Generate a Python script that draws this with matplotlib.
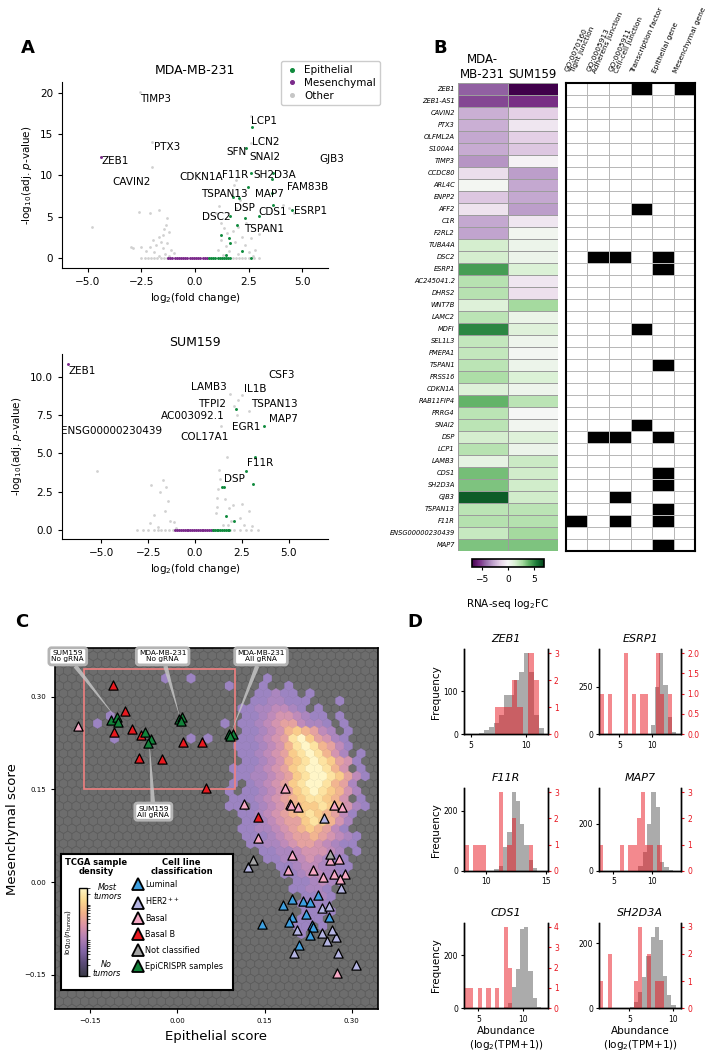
import numpy as np
import matplotlib
matplotlib.use("Agg")
import matplotlib.pyplot as plt
import matplotlib.cm as cm
from matplotlib.colors import ListedColormap, LinearSegmentedColormap, Normalize, LogNorm
from matplotlib.lines import Line2D
from matplotlib.patches import Rectangle
from matplotlib.ticker import NullFormatter
from matplotlib.transforms import ScaledTranslation

W, H = 710, 1059

# ---------------- panel A data ----------------
mda_other_x = [-2.58, -2.0, -2.0, -4.8, -2.9, 2.62, 2.6, 1.9, 1.8, 4.1, 4.4, 4.6, 1.1, 1.0, -2.6, -2.1, -1.7,
               -1.3, -1.35, -1.45, -1.2, -1.5, -1.7, -1.95, -1.6, -1.3, -1.8, -2.1, -1.5, -1.1, -2.3, -1.9,
               -1.4, -2.5, -3.0, -1.0, -1.2, -1.7, 1.2, 1.35, 1.5, 1.75, 2.0, 2.2, 1.2, 1.45, 1.85, 2.35,
               2.6, 1.05, 1.6, 2.0, 2.5, 1.3, 2.8, 3.0, 3.3, 2.4, 2.7, 1.9, 2.1, 1.55,
               -2.5, -2.35, -2.2, -2.05, -1.9, -1.75, -1.6, -1.45, -1.3, 1.75, 1.9, 2.05, 2.2, 2.35, 2.5,
               2.75, 3.0]
mda_other_y = [20.1, 14.0, 11.0, 3.8, 1.2, 17.2, 13.9, 9.5, 8.8, 6.4, 6.0, 5.5, 6.3, 5.4, 5.6, 5.5, 5.8,
               4.8, 4.0, 3.5, 3.2, 2.8, 2.5, 2.2, 2.0, 1.8, 1.6, 1.4, 1.2, 1.0, 0.9, 0.7,
               0.5, 1.3, 1.3, 0.6, 0.3, 0.3, 4.3, 3.6, 3.0, 3.3, 3.8, 2.6, 2.2, 1.5, 1.9, 1.6,
               2.4, 1.0, 0.8, 0.5, 0.7, 0.4, 1.0, 2.9, 3.5, 4.2, 0.3, 6.0, 7.0, 5.5,
               0, 0, 0, 0, 0, 0, 0, 0, 0, 0, 0, 0, 0, 0, 0, 0, 0]
mda_epi_x = [2.65, 2.39, 2.62, 3.63, 3.6, 2.47, 3.6, 1.77, 2.05, 3.63, 4.52, 3.0, 1.65, 2.31, 1.96,
             1.23, 1.59, 1.62, 2.2, 1.46, 2.62,
             0.65, 0.75, 0.85, 0.95, 1.05, 1.15, 1.25, 1.35, 1.45, 1.55, 1.65]
mda_epi_y = [15.8, 13.3, 10.3, 10.3, 9.6, 8.65, 7.9, 7.44, 7.25, 6.44, 5.83, 5.1, 5.1, 4.9, 4.0,
             2.8, 2.4, 1.8, 0.9, 0.4, 0.0,
             0, 0, 0, 0, 0, 0, 0, 0, 0, 0, 0]
mda_mes_x = [-4.37, -1.25, -1.15, -1.05, -0.95, -0.85, -0.75, -0.65, -0.55, -0.45, -0.35, -0.25,
             -0.15, -0.05, 0.05, 0.15, 0.25, 0.35, 0.45, 0.55]
mda_mes_y = [12.27, 0, 0, 0, 0, 0, 0, 0, 0, 0, 0, 0, 0, 0, 0, 0, 0, 0, 0, 0]
mda_labels = ["TIMP3", "PTX3", "ZEB1", "CAVIN2", "LCP1", "LCN2", "SFN", "SNAI2", "GJB3", "CDKN1A",
              "F11R", "SH2D3A", "FAM83B", "TSPAN13", "MAP7", "DSP", "CDS1", "ESRP1", "DSC2", "TSPAN1"]
mda_label_x = [-2.58, -1.93, -4.37, -3.86, 2.62, 2.65, 1.47, 2.52, 5.82, -0.74,
               1.28, 2.7, 4.27, 0.26, 2.8, 1.82, 2.96, 4.63, 0.31, 2.31]
mda_label_y = [19.3, 13.4, 11.75, 9.2, 16.6, 14.0, 12.8, 12.2, 11.95, 9.86,
               10.0, 10.0, 8.6, 7.7, 7.7, 6.0, 5.55, 5.7, 5.0, 3.54]

sum_other_x = [1.88, 2.52, 2.29, 2.1, 2.88, 2.23, 1.4, 1.72, -5.23, -2.34, -1.73, -1.56, -1.86, -1.45,
               -2.2, -1.6, -1.1, -1.35, -2.4, 1.3, 1.35, 1.25, 1.2, 1.15, 1.6, 1.1, 1.8, 2.05, 2.5, 2.9,
               2.4, 1.9, 1.5, 2.6, 3.05, 1.75, -2.0, -1.0,
               -3.1, -2.8, -2.5, -2.2, -2.0, -1.8, -1.6, -1.4, -1.2, 1.85, 2.1, 2.4, 2.7, 3.0, 3.36]
sum_other_y = [8.87, 8.8, 8.48, 8.09, 7.78, 7.5, 6.8, 4.74, 3.85, 2.94, 3.26, 2.8, 2.5, 1.89,
               1.0, 1.2, 0.5, 0.55, 0.45, 3.9, 3.3, 2.7, 2.1, 1.5, 2.0, 1.1, 1.4, 1.6, 1.7, 1.2,
               0.8, 0.6, 0.3, 0.3, 0.25, 0.3, 0.2, 0.15,
               0, 0, 0, 0, 0, 0, 0, 0, 0, 0, 0, 0, 0, 0, 0]
sum_epi_x = [2.2, 3.68, 3.2, 2.7, 3.09, 1.43, 1.55, 1.67, 2.08,
             0.95, 1.05, 1.15, 1.25, 1.35, 1.45, 1.55, 1.65, 1.75, 1.83]
sum_epi_y = [7.89, 6.8, 4.74, 3.87, 2.98, 2.79, 2.82, 0.89, 0.59,
             0, 0, 0, 0, 0, 0, 0, 0, 0, 0]
sum_mes_x = [-6.8, -1.07, -0.95, -0.85, -0.75, -0.65, -0.55, -0.45, -0.35, -0.25, -0.15, -0.05,
             0.05, 0.15, 0.25, 0.35, 0.45, 0.55, 0.65, 0.75, 0.85, 0.95]
sum_mes_y = [10.83, 0, 0, 0, 0, 0, 0, 0, 0, 0, 0, 0, 0, 0, 0, 0, 0, 0, 0, 0, 0, 0]
sum_labels = ["ZEB1", "CSF3", "LAMB3", "IL1B", "TFPI2", "TSPAN13", "AC003092.1", "MAP7",
              "ENSG00000230439", "EGR1", "COL17A1", "F11R", "DSP"]
sum_label_x = [-6.76, 3.9, -0.2, 2.59, 0.19, 3.0, -1.81, 3.95, -7.15, 1.99, -0.79, 2.77, 1.54]
sum_label_y = [10.39, 10.1, 9.35, 9.24, 8.26, 8.2, 7.44, 7.28, 6.48, 6.74, 6.05, 4.35, 3.3]

# ---------------- panel B data ----------------
genes = ["ZEB1", "ZEB1-AS1", "CAVIN2", "PTX3", "OLFML2A", "S100A4", "TIMP3", "CCDC80", "ARL4C",
         "ENPP2", "AFF2", "C1R", "F2RL2", "TUBA4A", "DSC2", "ESRP1", "AC245041.2", "DHRS2", "WNT7B",
         "LAMC2", "MDFI", "SEL1L3", "PMEPA1", "TSPAN1", "PRSS16", "CDKN1A", "RAB11FIP4", "PRRG4",
         "SNAI2", "DSP", "LCP1", "LAMB3", "CDS1", "SH2D3A", "GJB3", "TSPAN13", "F11R",
         "ENSG00000230439", "MAP7"]
mda_fc = [-4.5, -5.0, -2.5, -2.5, -2.7, -2.6, -3.2, -1.0, 0.2, -1.8, -0.8, -2.7, -2.8, 1.5, 1.5,
          4.6, 2.3, 2.3, 1.2, 2.2, 5.2, 2.0, 2.0, 2.2, 2.6, 1.2, 4.0, 2.2, 2.2, 1.5, 2.3, 0.8,
          3.7, 3.5, 6.3, 2.2, 2.4, 1.9, 3.5]
sum_fc = [-7.0, -5.5, -1.5, -0.7, -1.5, -1.8, -0.2, -3.0, -2.7, -2.7, -3.0, -0.7, 0.3, 0.5, 0.5,
          1.3, -0.7, -0.9, 2.8, 0.6, 1.1, 0.4, 0.2, 0.5, 1.3, 0.4, 2.2, 0.1, 0.3, 1.2, 0.5, 1.8,
          1.6, 1.6, 1.6, 2.2, 2.4, 2.8, 3.5]
annot_cols = ["GO:0070160\nTight junction", "GO:0005913\nAdherens junction",
              "GO:0005911\nCell-cell junction", "Transcription factor", "Epithelial gene",
              "Mesenchymal gene"]
annot_rows = ["000101", "000000", "000000", "000000", "000000", "000000", "000000", "000000",
              "000000", "000000", "000100", "000000", "000000", "000000", "011010", "000010",
              "000000", "000000", "000000", "000000", "000100", "000000", "000000", "000010",
              "000000", "000000", "000000", "000000", "000100", "011010", "000000", "000000",
              "000010", "000010", "001000", "000010", "101010", "000000", "000010"]

# ---------------- panel C data ----------------
# TCGA density read per hex row (row index, levels from hex column 19 on)
tcga_row_index = [44, 43, 42, 41, 40, 39, 38, 37, 36, 35, 34, 33, 32, 31, 30, 29, 28, 27, 26, 25,
                  24, 23, 22, 21, 20, 19, 18, 17, 16, 15, 14, 13, 12, 11, 10]
tcga_row_levels = ["......1...........",
                   ".1...1..1.........",
                   ".....11211.1......",
                   "....1122111...1...",
                   "...11223321.1.....",
                   "...1123443211.1...",
                   ".1.11234553221.1..",
                   "...11234676532.1..",
                   "...1123458975421..",
                   "..11123468986531..",
                   "...1123457898642.1",
                   "...11234678987541.",
                   "..11123457899864.1",
                   "..1122345789987531",
                   "..1.1234578998652.",
                   ".1.11234578987642",
                   "..11123456788764.1",
                   ".11.12345677876421",
                   "...11234567876531",
                   "...1123455787642.",
                   "...1122345676531",
                   "...11123455654321",
                   "....1122345543211",
                   ".....1122344432.1",
                   "......1122343211",
                   ".......112332211",
                   "........11233221",
                   ".........112321",
                   ".........11221",
                   "..........1121",
                   "..........1111",
                   "..........1111",
                   "..........111",
                   ".........11.1",
                   "..........1"]
tcga_sparse_x = [-0.134, -0.105, -0.11, 0.026, 0.058, -0.023, 0.021]
tcga_sparse_y = [0.26, 0.235, 0.273, 0.235, 0.235, 0.326, 0.326]

luminal_x = [0.198, 0.181, 0.216, 0.229, 0.242, 0.222, 0.198, 0.192, 0.146, 0.231, 0.233, 0.261, 0.229, 0.209]
luminal_y = [-0.028, -0.037, -0.030, -0.032, -0.021, -0.051, -0.057, -0.064, -0.067, -0.070, -0.072, -0.056, -0.086, -0.102]
her2_x = [0.122, 0.252, 0.282, 0.248, 0.260, 0.206, 0.248, 0.272, 0.258, 0.201, 0.277, 0.266, 0.307]
her2_y = [0.024, 0.103, -0.009, -0.041, -0.038, -0.078, -0.082, -0.088, -0.095, -0.114, -0.114, -0.077, -0.134]
basal_x = [-0.171, 0.186, 0.114, 0.193, 0.196, 0.208, 0.269, 0.284, 0.138, 0.197, 0.191, 0.233,
           0.250, 0.262, 0.278, 0.269, 0.289, 0.279, 0.275]
basal_y = [0.252, 0.153, 0.127, 0.126, 0.125, 0.122, 0.125, 0.122, 0.071, 0.044, 0.019, 0.020,
           0.009, 0.036, 0.037, 0.014, 0.013, 0.005, -0.147]
basalb_x = [-0.110, -0.089, -0.108, -0.078, -0.062, -0.066, -0.026, 0.010, 0.042, 0.050, 0.139]
basalb_y = [0.319, 0.277, 0.243, 0.247, 0.238, 0.201, 0.199, 0.226, 0.226, 0.152, 0.105]
nocls_x = [0.130, 0.262]
nocls_y = [0.036, 0.045]
epi_x = [-0.114, -0.104, -0.101, -0.055, -0.045, -0.050, 0.003, 0.008, 0.006, 0.089, 0.095, 0.090]
epi_y = [0.262, 0.267, 0.259, 0.243, 0.231, 0.225, 0.263, 0.267, 0.261, 0.240, 0.240, 0.236]

callout_text = ["SUM159\nNo gRNA", "MDA-MB-231\nNo gRNA", "MDA-MB-231\nAll gRNA", "SUM159\nAll gRNA"]
callout_xy = [(-0.105, 0.265), (0.005, 0.265), (0.092, 0.240), (-0.048, 0.228)]
callout_text_xy = [(-0.188, 0.365), (-0.025, 0.365), (0.144, 0.365), (-0.041, 0.114)]

# ---------------- panel D data ----------------
hist_genes = ["ZEB1", "ESRP1", "F11R", "MAP7", "CDS1", "SH2D3A"]
tcga_start = [5.75, 9.85, 10.7, 8.26, 7.8, 5.05]
tcga_width = [0.45, 0.65, 0.36, 0.56, 0.46, 0.48]
tcga_counts = [[4, 10, 18, 25, 45, 90, 92, 125, 145, 188, 145, 45, 14],
               [49, 250, 425, 258, 93, 14],
               [5, 15, 80, 130, 262, 232, 156, 85, 35, 10],
               [20, 80, 200, 335, 272, 40, 15, 6],
               [5, 20, 80, 150, 300, 308, 140, 40, 6],
               [3, 20, 50, 95, 160, 220, 250, 210, 100, 40, 10]]
line_start = [7.2, 1.95, 8.2, 3.17, 3.5, 1.5]
line_width = [0.5, 0.62, 0.36, 0.54, 0.48, 0.5]
line_counts = [[1, 1, 1, 2, 1, 0, 3, 2],
               [1, 0, 1, 0, 0, 0, 2, 0, 1, 0, 1, 1, 0, 0, 2, 1, 0, 1],
               [1, 0, 1, 1, 1, 0, 0, 0, 3, 0, 1, 2, 0, 0, 0, 1],
               [1, 0, 0, 0, 0, 1, 0, 1, 1, 2, 3, 1, 1, 0, 1],
               [1, 1, 0, 1, 0, 1, 0, 1, 0, 4, 2],
               [1, 0, 2, 0, 0, 0, 0, 0, 1, 3, 0, 2, 0, 1, 1]]
hist_xlim = [(4.42, 11.96), (1.9, 14.5), (8.18, 15.17), (3.17, 13.8), (3.44, 12.7), (1.54, 10.96)]
hist_xticks = [[5, 10], [5, 10], [10, 15], [5, 10], [5, 10], [5, 10]]
hist_yticks = [[0, 100], [0, 250], [0, 200], [0, 200], [0, 200], [0, 200]]
hist_rticks = [[0, 1, 2, 3], [0.0, 0.5, 1.0, 1.5, 2.0], [0, 1, 2, 3], [0, 1, 2, 3], [0, 1, 2, 3, 4], [0, 1, 2, 3]]


def box(x0, y0, x1, y1):
    return [x0 / W, 1 - y1 / H, (x1 - x0) / W, (y1 - y0) / H]


fig = plt.figure(figsize=(W / 100, H / 100), dpi=100)

# ================= A: volcano plots =================
GREEN = "#0f8a3c"
PURPLE = "#7b2a8b"
OTHER = "#c6c6c6"


def volcano(rect, title, ox, oy, ex, ey, mx, my, names, lx, ly, xlim, ylim, yticks, ylabfmt):
    ax = fig.add_axes(rect)
    ax.scatter(ox, oy, s=4, c=OTHER, lw=0, alpha=0.8)
    ax.scatter(mx, my, s=4.5, c=PURPLE, lw=0)
    ax.scatter(ex, ey, s=4.5, c=GREEN, lw=0)
    for n, x, y in zip(names, lx, ly):
        ax.text(x, y, n, fontsize=7.5, va="center", ha="left")
    ax.set_xlim(*xlim)
    ax.set_ylim(*ylim)
    ax.set_xticks([-5, -2.5, 0, 2.5, 5])
    ax.set_xticklabels(["\u22125.0", "\u22122.5", "0.0", "2.5", "5.0"])
    ax.set_yticks(yticks)
    ax.set_yticklabels([ylabfmt.format(v) for v in yticks])
    ax.tick_params(labelsize=7.5, length=3)
    for s in ["top", "right"]:
        ax.spines[s].set_visible(False)
    ax.set_title(title, fontsize=9, pad=6)
    ax.set_xlabel("log$_2$(fold change)", fontsize=7.5, labelpad=3)
    ax.set_ylabel("-log$_{10}$(adj. $p$-value)", fontsize=7.5)
    return ax


volcano(box(62, 82, 328, 268), "MDA-MB-231", mda_other_x, mda_other_y, mda_epi_x, mda_epi_y,
        mda_mes_x, mda_mes_y, mda_labels, mda_label_x, mda_label_y,
        (-6.2, 6.2), (-1.2, 21.3), [0, 5, 10, 15, 20], "{:.0f}")
volcano(box(62, 354, 328, 539), "SUM159", sum_other_x, sum_other_y, sum_epi_x, sum_epi_y,
        sum_mes_x, sum_mes_y, sum_labels, sum_label_x, sum_label_y,
        (-7.1, 7.1), (-0.6, 11.5), [0, 2.5, 5, 7.5, 10], "{:.1f}")

handles = [Line2D([], [], marker="o", ls="", color=c, markersize=2.6) for c in (GREEN, PURPLE, OTHER)]
fig.legend(handles, ["Epithelial", "Mesenchymal", "Other"], loc="upper left",
           bbox_to_anchor=(276 / W, 1 - 56 / H), fontsize=7.5, frameon=True, handletextpad=0.6,
           borderpad=0.4, labelspacing=0.25, handlelength=1.2, fancybox=True, framealpha=1,
           edgecolor="#cccccc")

# ================= B: heatmap + annotations =================
ax_h = fig.add_axes(box(457.7, 82.7, 558, 551))
vals = np.column_stack([mda_fc, sum_fc])
ax_h.pcolormesh(vals, cmap="PRGn", vmin=-7, vmax=7, edgecolors="#9c9c9c", linewidth=0.4)
ax_h.set_ylim(len(genes), 0)
ax_h.set_xlim(0, 2)
ax_h.set_yticks(np.arange(len(genes)) + 0.5)
ax_h.set_yticklabels(genes, fontsize=4.8, style="italic")
ax_h.xaxis.tick_top()
ax_h.set_xticks([0.5, 1.5])
ax_h.set_xticklabels(["MDA-\nMB-231", "SUM159"], fontsize=8.5)
ax_h.tick_params(axis="x", length=0, pad=1.5)
ax_h.tick_params(axis="y", length=0, pad=2)
for s in ax_h.spines.values():
    s.set_visible(False)

ax_a = fig.add_axes(box(565.7, 82.7, 695.3, 551))
flags = np.array([[int(ch) for ch in row] for row in annot_rows])
ax_a.pcolormesh(flags, cmap=ListedColormap(["white", "black"]), vmin=0, vmax=1,
                edgecolors="#b8b8b8", linewidth=0.6)
ax_a.set_ylim(len(genes), 0)
ax_a.set_xlim(0, len(annot_cols))
ax_a.set_yticks([])
ax_a.xaxis.tick_top()
ax_a.set_xticks(np.arange(len(annot_cols)) + 0.5)
ax_a.set_xticklabels(annot_cols, rotation=66, ha="left", va="bottom", rotation_mode="anchor",
                     fontsize=5.3, linespacing=1.0)
ax_a.tick_params(length=0, pad=6)
for lbl in ax_a.get_xticklabels():
    dx = -0.01 if "\n" in lbl.get_text() else -0.06
    lbl.set_transform(lbl.get_transform() + ScaledTranslation(dx, 0, fig.dpi_scale_trans))
for s in ax_a.spines.values():
    s.set_linewidth(1.5)

ax_cb = fig.add_axes(box(471.7, 559, 544, 567))
cb = fig.colorbar(cm.ScalarMappable(norm=Normalize(-7, 7), cmap="PRGn"), cax=ax_cb,
                  orientation="horizontal")
cb.set_ticks([-5, 0, 5])
cb.set_ticklabels(["\u22125", "0", "5"])
cb.ax.tick_params(labelsize=6.5, length=2.5, width=0.8)
cb.outline.set_linewidth(1.2)
cb.set_label("RNA-seq log$_2$FC", fontsize=7.5, labelpad=9)

# ================= C: TCGA density + cell lines =================
ext = (-0.21, 0.345, -0.205, 0.378)
nx, ny = 38, 24
sx = (ext[1] - ext[0]) / nx
sy = (ext[3] - ext[2]) / ny
tx, ty, tn = [], [], []
for k, row in zip(tcga_row_index, tcga_row_levels):
    for c, ch in enumerate(row):
        if ch == ".":
            continue
        tx.append(ext[0] + (19 + c + 0.5 * (k % 2)) * sx)
        ty.append(ext[2] + k * sy / 2)
        tn.append(int(ch))
tx += tcga_sparse_x
ty += tcga_sparse_y
tn += [1] * len(tcga_sparse_x)

dens_cmap = LinearSegmentedColormap.from_list(
    "dens", ["#9c84c2", "#ad86bf", "#c58db8", "#dc99ab", "#eeab96", "#f7c486", "#fde09a", "#fff6c8"])
bar_cmap = LinearSegmentedColormap.from_list(
    "densbar", ["#3a3a47", "#5a4a76", "#8466a6", "#b27fb4", "#dc93a6", "#f2b088", "#fbd98e", "#fff7c6"])

ax_c = fig.add_axes(box(55, 648.3, 378, 1009))
ax_c.set_facecolor("#6b6b6b")
ax_c.hexbin(tx, ty, gridsize=(nx, ny), extent=ext, cmap=ListedColormap(["#6d6d6d"]),
            edgecolors="#5c5c5c", linewidths=0.5, zorder=1)
ax_c.hexbin(tx, ty, C=tn, reduce_C_function=np.sum, gridsize=(nx, ny), extent=ext,
            cmap=dens_cmap, norm=Normalize(1, 9), edgecolors="face", linewidths=0.3, zorder=1.5)
ax_c.set_xlim(ext[0], ext[1])
ax_c.set_ylim(ext[2], ext[3])
ax_c.add_patch(Rectangle((-0.16, 0.15), 0.26, 0.195, fill=False, ec="#f08080", lw=1.2, zorder=2))

classes = [("Luminal", "#3d9fe0", luminal_x, luminal_y),
           ("HER2$^{++}$", "#b4b4e2", her2_x, her2_y),
           ("Basal", "#f6a8c4", basal_x, basal_y),
           ("Basal B", "#e8191f", basalb_x, basalb_y),
           ("Not classified", "#a3a3a3", nocls_x, nocls_y),
           ("EpiCRISPR samples", "#12833a", epi_x, epi_y)]
for name, col, xs, ys in classes:
    ax_c.scatter(xs, ys, marker="^", s=44, c=col, edgecolors="black", linewidths=0.9, zorder=4)

for txt, xy, txy in zip(callout_text, callout_xy, callout_text_xy):
    ax_c.annotate(txt, xy=xy, xytext=txy, fontsize=5.3, ha="center", va="center", zorder=3,
                  annotation_clip=False, linespacing=1.0,
                  bbox=dict(boxstyle="round,pad=0.35", fc="white", ec="#b4b4b4", lw=2),
                  arrowprops=dict(arrowstyle="wedge,tail_width=0.6,shrink_factor=0.5",
                                  fc="#c4c4c4", ec="none", alpha=0.85, shrinkA=0, shrinkB=0))

ax_c.set_xticks([-0.15, 0, 0.15, 0.30])
ax_c.set_yticks([-0.15, 0, 0.15, 0.30])
ax_c.tick_params(labelsize=5, length=3)
for s in ax_c.spines.values():
    s.set_linewidth(1.2)
ax_c.set_xlabel("Epithelial score", fontsize=9.5, labelpad=4)
ax_c.set_ylabel("Mesenchymal score", fontsize=9.5, labelpad=4)

# legend box inside C
ax_leg = ax_c.inset_axes([0.018, 0.053, 0.532, 0.377])
ax_leg.set_facecolor("white")
ax_leg.set_xticks([])
ax_leg.set_yticks([])
ax_leg.set_zorder(5)
for s in ax_leg.spines.values():
    s.set_linewidth(1.5)
ax_leg.text(0.2035, 0.90, "TCGA sample\ndensity", ha="center", va="center", fontsize=6,
            fontweight="bold", linespacing=1.0)
ax_leg.text(0.703, 0.90, "Cell line\nclassification", ha="center", va="center", fontsize=6,
            fontweight="bold", linespacing=1.0)
ax_leg.text(0.27, 0.72, "Most\ntumors", ha="center", va="center", fontsize=5.8, style="italic",
            linespacing=1.0)
ax_leg.text(0.265, 0.15, "No\ntumors", ha="center", va="center", fontsize=5.8, style="italic",
            linespacing=1.0)
ax_leg.text(0.04, 0.426, "log$_{10}$($n_{\\mathrm{tumors}}$)", ha="center", va="center",
            fontsize=5, rotation=90)
cax = ax_leg.inset_axes([0.108, 0.103, 0.0465, 0.647])
cb2 = fig.colorbar(cm.ScalarMappable(norm=LogNorm(1, 300), cmap=bar_cmap), cax=cax)
cb2.ax.yaxis.set_major_formatter(NullFormatter())
cb2.ax.yaxis.set_minor_formatter(NullFormatter())
cb2.ax.tick_params(which="both", length=1.8, width=0.5, right=True)
cb2.outline.set_linewidth(1.0)

leg_handles = [Line2D([], [], marker="^", ls="", markerfacecolor=col, markeredgecolor="black",
                      markeredgewidth=1.3, markersize=8) for _, col, _, _ in classes]
ax_leg.legend(leg_handles, [c[0] for c in classes], loc="upper left", bbox_to_anchor=(0.42, 0.81),
              frameon=False, fontsize=5.9, labelspacing=0.85, handletextpad=0.25,
              borderaxespad=0, handlelength=1.2, borderpad=0)

# ================= D: histograms =================
hist_rects = [box(464.3, 649, 547.7, 734.3), box(599.3, 649, 681, 734.3),
              box(464.3, 788.3, 547.7, 871), box(599.3, 788.3, 681, 871),
              box(464.3, 922.7, 547.7, 1008.3), box(599.3, 922.7, 681, 1008.3)]
RED = "#e8141e"
for i, g in enumerate(hist_genes):
    ax = fig.add_axes(hist_rects[i])
    ge = tcga_start[i] + tcga_width[i] * np.arange(len(tcga_counts[i]) + 1)
    ax.bar(ge[:-1], tcga_counts[i], width=tcga_width[i], align="edge", color="#9c9c9c",
           alpha=0.85, lw=0)
    ax2 = ax.twinx()
    le = line_start[i] + line_width[i] * np.arange(len(line_counts[i]) + 1)
    ax2.bar(le[:-1], line_counts[i], width=line_width[i], align="edge", color=RED, alpha=0.5, lw=0)
    ax.set_xlim(*hist_xlim[i])
    ax.set_xticks(hist_xticks[i])
    ax.set_yticks(hist_yticks[i])
    ax2.set_yticks(hist_rticks[i])
    if i == 1:
        ax2.set_yticklabels(["{:.1f}".format(v) for v in hist_rticks[i]])
    ax.set_ylim(0, max(tcga_counts[i]) * 1.05)
    ax2.set_ylim(0, max(line_counts[i]) * 1.05)
    ax.tick_params(labelsize=5.5, length=2.5, pad=2)
    ax2.tick_params(labelsize=5.5, length=2.5, pad=2, colors=RED)
    ax2.spines["right"].set_color("black")
    for a in (ax, ax2):
        a.spines["top"].set_visible(False)
        for s in a.spines.values():
            s.set_linewidth(1.0)
    ax.set_title(g, fontsize=8, style="italic", pad=5)
    if i % 2 == 0:
        ax.set_ylabel("Frequency", fontsize=7.5, labelpad=2)
    if i >= 4:
        ax.set_xlabel("Abundance\n(log$_2$(TPM+1))", fontsize=7.5, labelpad=2)

# panel letters
for letter, x, y in [("A", 28, 48), ("B", 440, 48), ("C", 22, 622), ("D", 415, 622)]:
    fig.text(x / W, 1 - y / H, letter, fontsize=13, fontweight="bold", ha="center", va="center")

fig.savefig("out.png", dpi=100)
